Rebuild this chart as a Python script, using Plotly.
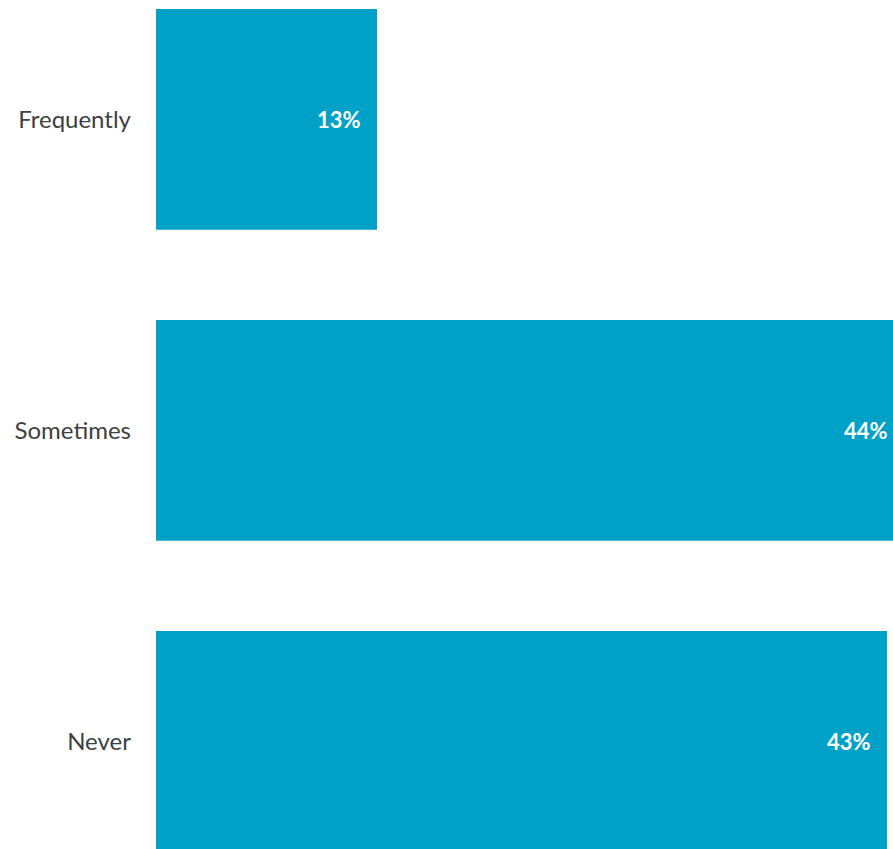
import plotly.graph_objects as go

categories = ["Frequently", "Sometimes", "Never"]
shares = [13, 44, 43]
labels = ["13%", "44%", "43%"]

BAR_COLOR = "#00A1C7"

fig = go.Figure(
    go.Bar(
        x=shares,
        y=categories,
        orientation="h",
        width=0.71,
        marker=dict(color=BAR_COLOR, line=dict(width=0)),
        hoverinfo="skip",
    )
)

# Value labels sit just inside the end of each bar.
for cat, val, lab in zip(categories, shares, labels):
    fig.add_annotation(
        x=val,
        y=cat,
        xref="x",
        yref="y",
        text=f"<b>{lab}</b>",
        showarrow=False,
        xanchor="right",
        yanchor="middle",
        xshift=-14,
        font=dict(family="Lato", size=22, color="white"),
    )

# The canvas runs a little past the window's right edge, so the longest bars bleed off the page.
fig.update_layout(
    width=910,
    height=849,
    margin=dict(l=156, r=0, t=0, b=0),
    paper_bgcolor="white",
    plot_bgcolor="white",
    showlegend=False,
)

fig.update_xaxes(range=[0, 44.35], visible=False, fixedrange=True)
fig.update_yaxes(
    range=[2.346, -0.384],
    showgrid=False,
    zeroline=False,
    showline=False,
    ticks="",
    ticklabelstandoff=24,
    tickfont=dict(family="Lato", size=24, color="#404040"),
    fixedrange=True,
)

fig.write_html(
    "out.html",
    config={"displayModeBar": False},
    post_script=(
        "document.documentElement.style.overflow='hidden';"
        "document.body.style.overflow='hidden';"
        "document.body.style.margin='0';"
    ),
)
